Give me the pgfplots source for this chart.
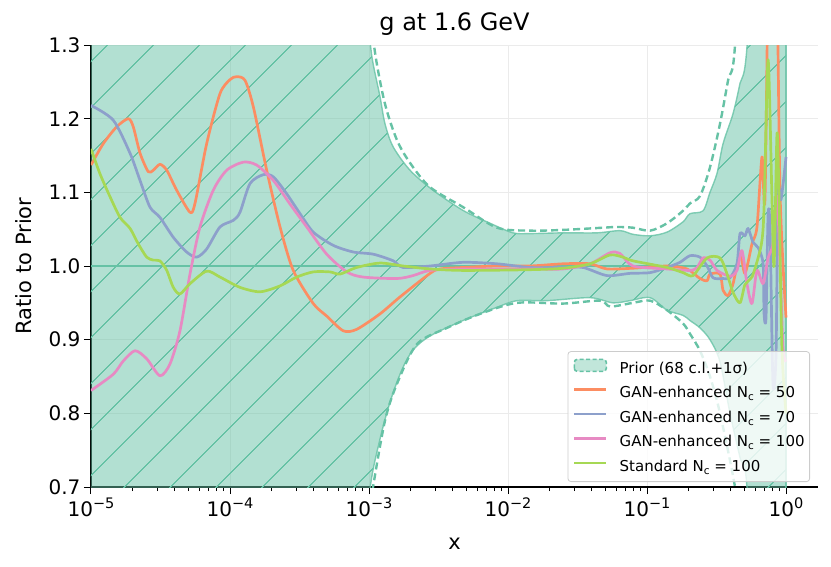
\documentclass[border=0pt]{standalone}
\usepackage{fontspec}
\setmainfont{DejaVu Sans}
\usepackage{pgfplots}
\pgfplotsset{compat=1.18}
\usepgfplotslibrary{fillbetween}
\usetikzlibrary{patterns.meta}
\definecolor{cteal}{HTML}{66C2A5}
\definecolor{corange}{HTML}{FC8D62}
\definecolor{cblue}{HTML}{8DA0CB}
\definecolor{cpink}{HTML}{E78AC3}
\definecolor{cgreen}{HTML}{A6D854}
\newcommand{\ex}[1]{10\raisebox{8.3pt}{\fontsize{14.5}{14.5}\selectfont #1}}
\newcommand{\Nc}{N\raisebox{-3pt}{\fontsize{10.5}{10.5}\selectfont c}}
\begin{document}
\begin{tikzpicture}
\begin{axis}[
  at={(0pt,0pt)}, anchor=south west,
  scale only axis, width=727pt, height=442pt,
  xmin=-5, xmax=0.23, ymin=0.7, ymax=1.3,
  axis lines=left, axis line style={-, line width=1.1pt, black},
  xtick={-5,-4,-3,-2,-1,0},
  xticklabels={\ex{−5},\ex{−4},\ex{−3},\ex{−2},\ex{−1},\ex{0}},
  minor xtick={-4.699,-4.523,-4.398,-4.301,-4.222,-4.155,-4.097,-4.046,
               -3.699,-3.523,-3.398,-3.301,-3.222,-3.155,-3.097,-3.046,
               -2.699,-2.523,-2.398,-2.301,-2.222,-2.155,-2.097,-2.046,
               -1.699,-1.523,-1.398,-1.301,-1.222,-1.155,-1.097,-1.046,
               -0.699,-0.523,-0.398,-0.301,-0.222,-0.155,-0.097,-0.046},
  ytick={0.7,0.8,0.9,1.0,1.1,1.2,1.3},
  tick align=outside, major tick length=7pt, minor tick length=4pt,
  tick style={black, line width=1pt},
  grid=major, major grid style={black!8, line width=0.8pt},
  tick label style={font=\fontsize{20}{24}\selectfont},
  yticklabel style={/pgf/number format/.cd, fixed, fixed zerofill, precision=1, assume math mode=true},
  legend cell align=left,
  legend image code/.code={\draw[#1, line width=2.7pt] (0pt,4.5pt) -- (32pt,4.5pt);},
  legend style={at={(1,0)}, anchor=south east, xshift=-8pt, yshift=5pt,
    draw=black!20, line width=0.8pt, rounded corners=3pt, fill=white, fill opacity=0.8,
    draw opacity=1, text opacity=1, font=\fontsize{15}{18}\selectfont,
    inner xsep=5pt, inner ysep=7pt, row sep=10pt,
    nodes={inner sep=0pt, text height=11pt, text depth=3.5pt},
    /tikz/every odd column/.append style={column sep=12pt}},
]
% ---- prior band (68 c.l.) ----
\addplot[name path=U, cteal, line width=1.4pt, draw opacity=0.8, smooth, tension=0.5, forget plot] coordinates {
(-5,3.0) (-3.5,2.6) (-3.2,1.75) (-3.065,1.42) (-2.993,1.305) (-2.971,1.275) (-2.921,1.230)
(-2.885,1.193) (-2.827,1.162) (-2.705,1.130) (-2.540,1.103) (-2.324,1.0755) (-2.129,1.058)
(-1.964,1.045) (-1.842,1.044) (-1.604,1.045) (-1.360,1.045) (-1.194,1.048) (-1.101,1.043)
(-0.978,1.041) (-0.856,1.046) (-0.741,1.060) (-0.691,1.071) (-0.597,1.075) (-0.547,1.100)
(-0.496,1.126) (-0.453,1.166) (-0.381,1.207) (-0.331,1.248) (-0.281,1.297) (-0.187,1.6) (0,3.0)};
\addplot[name path=L, cteal, line width=1.4pt, draw opacity=0.8, smooth, tension=0.5, forget plot] coordinates {
(-5,-1.0) (-3.5,-0.6) (-3.2,0.3) (-3.065,0.55) (-2.993,0.697) (-2.921,0.765) (-2.849,0.815)
(-2.766,0.858) (-2.683,0.886) (-2.561,0.905) (-2.324,0.926) (-2.079,0.944) (-1.935,0.953) (-1.719,0.953)
(-1.410,0.957) (-1.245,0.950) (-1.122,0.953) (-0.978,0.957) (-0.856,0.940) (-0.741,0.933)
(-0.691,0.926) (-0.619,0.916) (-0.547,0.900) (-0.475,0.87) (-0.403,0.80) (-0.331,0.74)
(-0.281,0.70) (-0.187,0.4) (0,-1.0)};
\addplot[cteal, fill=cteal, fill opacity=0.5, draw=none, forget plot] fill between[of=U and L];
\addplot[draw=none, pattern={Lines[angle=45,distance=32.5pt,line width=1.1pt]}, pattern color=cteal, forget plot] fill between[of=U and L];
\addplot[cteal, line width=1.4pt, draw opacity=0.8, forget plot] coordinates {(0,0.5) (0,1.5)};
% ---- 1 sigma dashed ----
\addplot[cteal, line width=2.4pt, dash pattern=on 7pt off 4pt, smooth, tension=0.5, forget plot] coordinates {
(-3.029,1.40) (-2.957,1.29) (-2.885,1.22) (-2.799,1.171) (-2.705,1.14) (-2.561,1.107)
(-2.324,1.080) (-2.079,1.052) (-1.842,1.048) (-1.604,1.049) (-1.317,1.052) (-1.216,1.053)
(-1.101,1.052) (-0.978,1.048) (-0.856,1.058) (-0.741,1.075) (-0.691,1.085) (-0.619,1.095)
(-0.547,1.134) (-0.475,1.193) (-0.417,1.252) (-0.367,1.30) (-0.295,1.6)};
\addplot[cteal, line width=2.4pt, dash pattern=on 7pt off 4pt, smooth, tension=0.5, forget plot] coordinates {
(-3.007,0.65) (-2.971,0.70) (-2.885,0.79) (-2.799,0.84) (-2.655,0.894) (-2.439,0.916)
(-2.201,0.935) (-1.935,0.950) (-1.604,0.949) (-1.338,0.953) (-1.266,0.945) (-1.101,0.950)
(-0.978,0.953) (-0.856,0.940) (-0.741,0.922) (-0.691,0.908) (-0.619,0.885) (-0.547,0.85)
(-0.475,0.80) (-0.367,0.70) (-0.295,0.6)};
% ---- central prior ----
\addplot[cteal, line width=2.9pt, forget plot] coordinates {(-5,1.0) (0,1.0)};
\addlegendimage{legend image code/.code={\draw[cteal, line width=1.6pt, dash pattern=on 4pt off 2.5pt, fill=cteal!50] (0pt,-2pt) rectangle (32pt,10pt);}}
\addlegendentry{Prior (68 c.l.+1σ)}
% ---- GAN N=50 ----
\addplot[corange, line width=2.7pt, smooth, tension=0.45, line join=round] coordinates {
(-5.000,1.137) (-4.912,1.166) (-4.815,1.189) (-4.732,1.200) (-4.696,1.189) (-4.647,1.153)
(-4.588,1.128) (-4.552,1.130) (-4.504,1.138) (-4.455,1.130) (-4.384,1.103) (-4.288,1.073)
(-4.252,1.085) (-4.168,1.166) (-4.072,1.234) (-4.000,1.253) (-3.952,1.257) (-3.892,1.252)
(-3.832,1.216) (-3.736,1.130) (-3.640,1.053) (-3.545,0.994) (-3.401,0.949) (-3.304,0.932)
(-3.185,0.912) (-3.089,0.914) (-2.921,0.935) (-2.777,0.958) (-2.561,0.990) (-2.489,0.996)
(-2.324,0.998) (-2.079,1.000) (-1.842,1.000) (-1.604,1.003) (-1.410,1.003) (-1.288,0.996)
(-1.101,0.997) (-0.856,1.000) (-0.712,0.996) (-0.619,0.983) (-0.568,0.980) (-0.547,0.989)
(-0.475,0.989) (-0.453,0.967) (-0.417,0.960) (-0.381,0.976) (-0.331,1.016) (-0.295,0.990)
(-0.245,1.030) (-0.209,1.053) (-0.173,1.148) (-0.151,1.094) (-0.122,1.5) (-0.101,1.6)
(-0.072,1.5) (-0.043,1.1) (0,0.93)};
\addlegendentry{GAN-enhanced \Nc{} = 50}
% ---- GAN N=70 ----
\addplot[cblue, line width=2.7pt, smooth, tension=0.45, line join=round] coordinates {
(-5.000,1.218) (-4.840,1.198) (-4.719,1.153) (-4.647,1.116) (-4.576,1.080) (-4.504,1.066)
(-4.408,1.039) (-4.312,1.019) (-4.240,1.012) (-4.168,1.023) (-4.072,1.053) (-3.976,1.062)
(-3.928,1.073) (-3.856,1.112) (-3.760,1.124) (-3.688,1.121) (-3.592,1.098) (-3.496,1.071)
(-3.401,1.046) (-3.257,1.028) (-3.113,1.019) (-2.969,1.016) (-2.825,1.007) (-2.755,0.998)
(-2.561,1.000) (-2.324,1.005) (-2.079,1.003) (-1.842,0.998) (-1.604,0.998) (-1.460,0.998)
(-1.288,0.987) (-1.122,0.990) (-0.978,0.991) (-0.856,0.998) (-0.763,1.005) (-0.691,1.014)
(-0.619,1.012) (-0.568,1.000) (-0.525,0.984) (-0.453,0.983) (-0.403,0.984) (-0.353,1.003)
(-0.331,1.044) (-0.295,1.041) (-0.273,1.051) (-0.237,1.032) (-0.201,1.025) (-0.165,1.003)
(-0.158,0.935) (-0.144,0.930) (-0.129,1.070) (-0.115,1.050) (-0.094,0.840) (-0.072,0.880)
(-0.058,1.100) (-0.036,1.090) (0,1.148)};
\addlegendentry{GAN-enhanced \Nc{} = 70}
% ---- GAN N=100 ----
\addplot[cpink, line width=2.7pt, smooth, tension=0.45, line join=round] coordinates {
(-5.000,0.831) (-4.840,0.853) (-4.768,0.871) (-4.683,0.885) (-4.599,0.874) (-4.504,0.851)
(-4.432,0.867) (-4.360,0.912) (-4.288,0.989) (-4.216,1.053) (-4.120,1.103) (-4.024,1.130)
(-3.904,1.141) (-3.808,1.137) (-3.688,1.116) (-3.568,1.084) (-3.448,1.053) (-3.304,1.016)
(-3.160,0.992) (-3.043,0.985) (-2.799,0.983) (-2.683,0.987) (-2.561,0.994) (-2.324,0.996)
(-1.842,0.996) (-1.604,0.996) (-1.410,1.003) (-1.266,1.018) (-1.194,1.017) (-1.101,1.000)
(-0.856,0.996) (-0.691,0.994) (-0.640,0.998) (-0.597,1.011) (-0.547,1.008) (-0.496,0.994)
(-0.403,0.986) (-0.353,0.994) (-0.317,1.021) (-0.281,0.976) (-0.245,0.949) (-0.209,0.994)
(-0.165,0.976) (-0.129,1.011) (-0.094,1.030) (-0.065,1.095) (-0.043,1.000) (-0.022,0.889)
(0,0.87)};
\addlegendentry{GAN-enhanced \Nc{} = 100}
% ---- Standard N=100 ----
\addplot[cgreen, line width=2.7pt, smooth, tension=0.45, line join=round] coordinates {
(-5.000,1.159) (-4.935,1.125) (-4.863,1.094) (-4.791,1.066) (-4.719,1.051) (-4.660,1.030)
(-4.599,1.012) (-4.552,1.008) (-4.504,1.007) (-4.455,0.994) (-4.408,0.971) (-4.360,0.962)
(-4.288,0.976) (-4.168,0.993) (-4.072,0.985) (-3.928,0.971) (-3.784,0.965) (-3.640,0.973)
(-3.520,0.985) (-3.401,0.992) (-3.281,0.992) (-3.209,0.989) (-3.089,0.998) (-2.921,1.004)
(-2.755,1.000) (-2.561,0.996) (-2.324,0.994) (-1.842,0.995) (-1.604,0.997) (-1.410,1.003)
(-1.266,1.015) (-1.173,1.012) (-1.101,1.007) (-0.856,0.998) (-0.741,0.991) (-0.669,0.987)
(-0.568,1.011) (-0.475,1.011) (-0.424,0.989) (-0.381,0.964) (-0.331,0.950) (-0.295,0.975)
(-0.245,0.985) (-0.201,1.011) (-0.173,1.035) (-0.158,1.080) (-0.129,1.280) (-0.101,1.090)
(-0.086,1.000) (-0.065,1.180) (-0.050,1.090) (-0.029,0.885) (0,0.80)};
\addlegendentry{Standard \Nc{} = 100}
\end{axis}
\node[anchor=base, font=\fontsize{24}{28}\selectfont] at (363.5pt,456pt) {g at 1.6 GeV};
\node[anchor=base, font=\fontsize{21}{25}\selectfont] at (363.5pt,-62pt) {x};
\node[rotate=90, anchor=base, font=\fontsize{21}{25}\selectfont] at (-59pt,221pt) {Ratio to Prior};
\pgfresetboundingbox
\useasboundingbox (-91pt,-79pt) rectangle (740pt,487pt);
\end{tikzpicture}
\end{document}
